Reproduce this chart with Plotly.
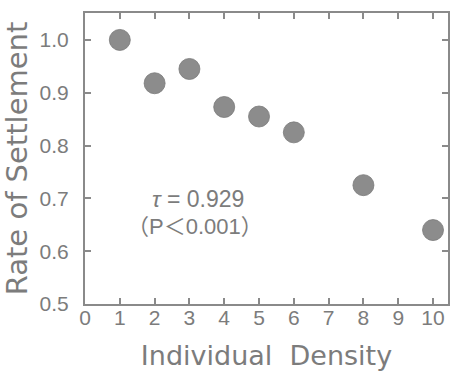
import plotly.graph_objects as go

density = [1, 2, 3, 4, 5, 6, 8, 10]
settlement = [1.0, 0.918, 0.945, 0.873, 0.855, 0.825, 0.725, 0.64]
x_ticks = list(range(0, 11))
y_ticks = [0.5, 0.6, 0.7, 0.8, 0.9, 1.0]
y_tick_labels = ["0.5", "0.6", "0.7", "0.8", "0.9", "1.0"]

TXT = "#7c7c7c"
LINE = "#8a8a8a"
FONT = "Liberation Sans, Arial, Noto Sans CJK JP, sans-serif"
TFONT = "DejaVu Sans, Liberation Sans, sans-serif"

fig = go.Figure()
fig.add_trace(go.Scatter(
    x=density, y=settlement, mode="markers",
    marker=dict(size=21, color="#8c8c8c", line=dict(width=0.8, color="#7a7a7a")),
    showlegend=False, cliponaxis=False,
))

axis_common = dict(
    showgrid=False, zeroline=False, showline=True, linecolor=LINE, linewidth=2,
    mirror="ticks", ticks="inside", ticklen=6, tickwidth=2, tickcolor=LINE,
    tickfont=dict(family=FONT, size=21, color=TXT),
)

fig.update_layout(
    width=450, height=372,
    margin=dict(l=85, r=2, t=13, b=68, autoexpand=False),
    paper_bgcolor="white", plot_bgcolor="white",
    font=dict(family=FONT, color=TXT),
    xaxis=dict(
        range=[0, 10.43], tickvals=x_ticks, ticktext=[str(v) for v in x_ticks],
        title=dict(text="Individual  Density", font=dict(family=TFONT, size=27, color=TXT), standoff=18),
        ticklabelstandoff=-6,
        **axis_common,
    ),
    yaxis=dict(
        range=[0.5, 1.051], tickvals=y_ticks, ticktext=y_tick_labels,
        title=dict(text="Rate of Settlement", font=dict(family=TFONT, size=29, color=TXT), standoff=4),
        ticklabelstandoff=10,
        **axis_common,
    ),
)

fig.add_annotation(x=3.26, y=0.6717, xref="x", yref="y", yanchor="bottom",
                   text="<i>τ</i> = 0.929",
                   showarrow=False, borderpad=0, font=dict(family=FONT, size=23, color=TXT))
fig.add_annotation(x=3.16, y=0.6717, xref="x", yref="y", yanchor="top",
                   text="（P＜0.001）",
                   showarrow=False, borderpad=0, font=dict(family=FONT, size=22, color=TXT))

fig.write_html("out.html", config={"displayModeBar": False},
               post_script="document.body.style.margin='0';document.body.style.overflow='hidden';")
